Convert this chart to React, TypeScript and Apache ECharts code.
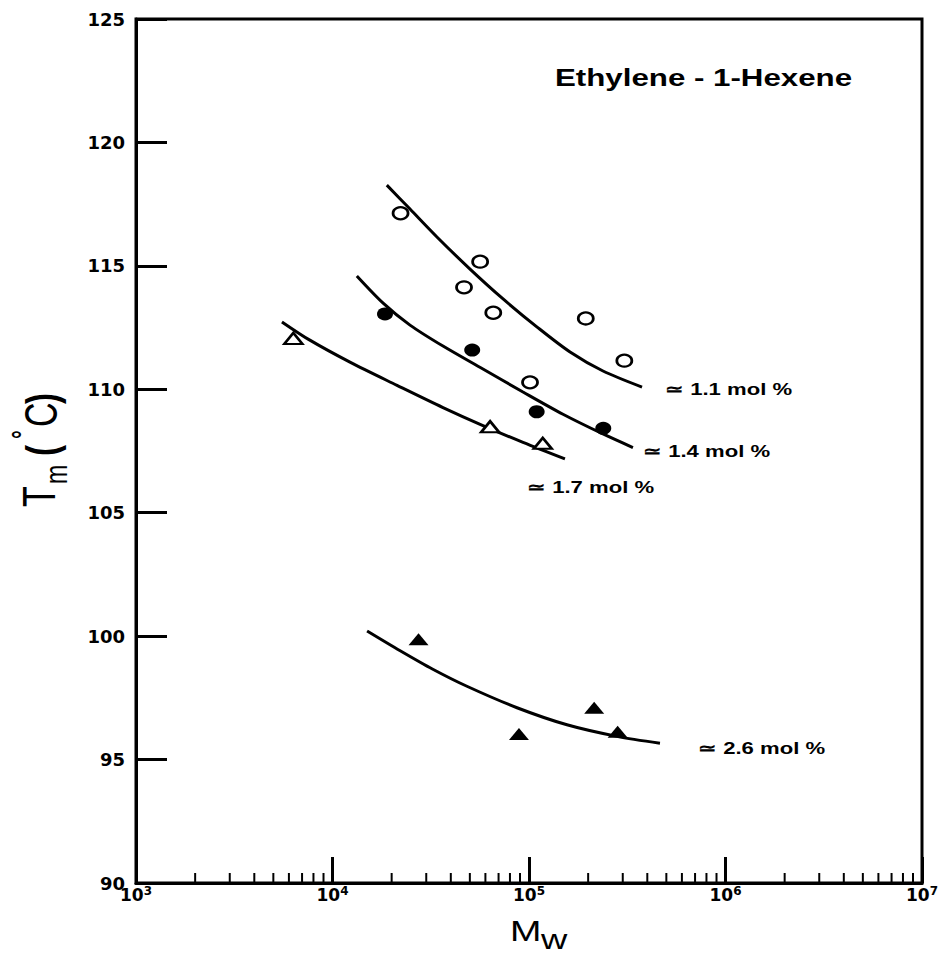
import React, { useEffect, useRef } from "react";
import * as echarts from "echarts";

// Melting temperature vs. weight-average molecular weight, ethylene / 1-hexene copolymers

// Measured points [Mw, Tm (°C)]
const openCircles11: [number, number][] = [
  [22200, 117.13], [56400, 115.17], [46700, 114.13], [65800, 113.1],
  [194500, 112.87], [305600, 111.16], [101200, 110.28],
];
const filledCircles14: [number, number][] = [
  [18500, 113.05], [51400, 111.59], [109400, 109.09], [238800, 108.42],
];
const openTriangles17: [number, number][] = [
  [6320, 112.06], [63400, 108.48], [117500, 107.81],
];
const filledTriangles26: [number, number][] = [
  [27400, 99.87], [88900, 96.04], [214600, 97.1], [282600, 96.13],
];

// Fitted trend curves [Mw, Tm (°C)]
const curve11: [number, number][] = [
  [18900, 118.27], [24800, 117.3], [34000, 116.17], [50100, 114.87], [73800, 113.66],
  [110000, 112.52], [161800, 111.51], [238000, 110.74], [376000, 110.09],
];
const curve14: [number, number][] = [
  [13300, 114.59], [18100, 113.49], [24800, 112.6], [36500, 111.75], [58300, 110.82],
  [93200, 109.89], [148900, 108.99], [238000, 108.19], [338000, 107.64],
];
const curve17: [number, number][] = [
  [5530, 112.73], [7670, 111.99], [12270, 111.1], [21300, 110.16], [36500, 109.26],
  [58300, 108.53], [93200, 107.85], [152400, 107.18],
];
const curve26: [number, number][] = [
  [15000, 100.21], [22100, 99.41], [32400, 98.66], [48300, 97.97], [86900, 97.1],
  [156000, 96.41], [280400, 95.94], [464000, 95.66],
];

// Axis ranges and tick values
const xMin = 1e3;
const xMax = 1e7;
const yMin = 90;
const yMax = 125;
const yStep = 5;
const decades = [1e3, 1e4, 1e5, 1e6];
const minorMantissas = [2, 3, 4, 5, 6, 7, 8, 9];

// Curve labels
const curveLabels = ["\u2243 1.1 mol %", "\u2243 1.4 mol %", "\u2243 1.7 mol %", "\u2243 2.6 mol %"];
const titleText = "Ethylene - 1-Hexene";

const SANS = '"Liberation Sans", Arial, sans-serif';
const WIDE = '"DejaVu Sans", sans-serif';

export default function App() {
  const ref = useRef<HTMLDivElement>(null);

  useEffect(() => {
    document.body.style.margin = "0";
    if (!ref.current) return;
    const chart = echarts.init(ref.current, undefined, { renderer: "svg" });

    const minorTicks: [number, number][] = [];
    decades.forEach((d) => minorMantissas.forEach((m) => minorTicks.push([d * m, yMin])));

    const lineSeries = (data: [number, number][]) => ({
      type: "line",
      data,
      smooth: 0.3,
      showSymbol: false,
      symbol: "none",
      lineStyle: { color: "#000", width: 3 },
      z: 2,
    });

    const labelStyle = (text: string) => ({
      text,
      font: `bold 17px ${SANS}`,
      fill: "#000",
      align: "left",
      verticalAlign: "middle",
    });

    const option: any = {
      animation: false,
      backgroundColor: "#fff",
      grid: {
        left: 136,
        right: 26,
        top: 19,
        bottom: 73,
        show: true,
        borderColor: "#000",
        borderWidth: 3,
        backgroundColor: "transparent",
      },
      xAxis: {
        type: "log",
        logBase: 10,
        min: xMin,
        max: xMax,
        splitNumber: 4,
        axisLine: { show: true, lineStyle: { color: "#000", width: 3 } },
        axisTick: { show: true, inside: true, length: 26, lineStyle: { color: "#000", width: 3 } },
        splitLine: { show: false },
        axisLabel: {
          margin: 2,
          formatter: (v: number) => `{b|10}{s|${Math.round(Math.log10(v))}}`,
          rich: {
            b: { fontFamily: WIDE, fontWeight: "bold", fontSize: 17, lineHeight: 20, color: "#000" },
            s: { fontFamily: WIDE, fontWeight: "bold", fontSize: 12, lineHeight: 12, verticalAlign: "top", color: "#000" },
          },
        },
      },
      yAxis: {
        type: "value",
        min: yMin,
        max: yMax,
        interval: yStep,
        axisLine: { show: true, lineStyle: { color: "#000", width: 3 } },
        axisTick: { show: true, inside: true, length: 31, lineStyle: { color: "#000", width: 3 } },
        splitLine: { show: false },
        axisLabel: { color: "#000", fontFamily: WIDE, fontWeight: "bold", fontSize: 18, margin: 11 },
      },
      series: [
        {
          type: "custom",
          data: minorTicks,
          encode: { x: 0, y: 1 },
          clip: false,
          renderItem: (_p: any, api: any) => {
            const p = api.coord([api.value(0), api.value(1)]);
            return {
              type: "line",
              shape: { x1: p[0], y1: p[1], x2: p[0], y2: p[1] - 10 },
              style: { stroke: "#000", lineWidth: 2 },
            };
          },
          z: 3,
        },
        lineSeries(curve11),
        lineSeries(curve14),
        lineSeries(curve17),
        lineSeries(curve26),
        {
          type: "scatter",
          data: openCircles11,
          symbol: "circle",
          symbolSize: [15, 12],
          itemStyle: { color: "#fff", borderColor: "#000", borderWidth: 2.5, opacity: 1 },
          z: 4,
        },
        {
          type: "scatter",
          data: filledCircles14,
          symbol: "circle",
          symbolSize: [16, 13],
          itemStyle: { color: "#000", opacity: 1 },
          z: 4,
        },
        {
          type: "scatter",
          data: openTriangles17,
          symbol: "triangle",
          symbolSize: [18, 11],
          itemStyle: { color: "#fff", borderColor: "#000", borderWidth: 2.5, opacity: 1 },
          z: 4,
        },
        {
          type: "scatter",
          data: filledTriangles26,
          symbol: "triangle",
          symbolSize: [20, 12],
          itemStyle: { color: "#000", opacity: 1 },
          z: 4,
        },
      ],
      graphic: [
        {
          type: "text",
          x: 555,
          y: 78.5,
          scaleX: 1.36,
          style: { text: titleText, font: `bold 23px ${SANS}`, fill: "#000", align: "left", verticalAlign: "middle" },
        },
        { type: "text", x: 665, y: 389, scaleX: 1.3, style: labelStyle(curveLabels[0]) },
        { type: "text", x: 643, y: 451, scaleX: 1.3, style: labelStyle(curveLabels[1]) },
        { type: "text", x: 527, y: 487, scaleX: 1.3, style: labelStyle(curveLabels[2]) },
        { type: "text", x: 698, y: 748, scaleX: 1.3, style: labelStyle(curveLabels[3]) },
        // y-axis title: T_m (°C), rotated
        {
          type: "group",
          x: 38,
          y: 507,
          rotation: Math.PI / 2,
          scaleY: 1.35,
          children: [
            { type: "text", x: 0, y: 1, style: { text: "T", font: `34px ${SANS}`, fill: "#000", align: "left", verticalAlign: "middle" } },
            { type: "text", x: 23, y: 13.3, style: { text: "m", font: `23px ${SANS}`, fill: "#000", align: "left", verticalAlign: "middle" } },
            { type: "text", x: 51, y: 3, style: { text: "(", font: `bold 33px ${SANS}`, fill: "#000", align: "left", verticalAlign: "middle" } },
            { type: "text", x: 68, y: -11, style: { text: "\u00b0", font: `bold 22px ${SANS}`, fill: "#000", align: "left", verticalAlign: "middle" } },
            { type: "text", x: 80, y: 2, style: { text: "C", font: `34px ${SANS}`, fill: "#000", align: "left", verticalAlign: "middle" } },
            { type: "text", x: 103, y: 3, style: { text: ")", font: `bold 33px ${SANS}`, fill: "#000", align: "left", verticalAlign: "middle" } },
          ],
        },
        // x-axis title: M_w
        { type: "text", x: 510, y: 931, scaleX: 1.3, style: { text: "M", font: `29px ${SANS}`, fill: "#000", align: "left", verticalAlign: "middle" } },
        { type: "text", x: 541, y: 940, scaleX: 1.3, style: { text: "w", font: `28px ${SANS}`, fill: "#000", align: "left", verticalAlign: "middle" } },
      ],
    };

    chart.setOption(option);
    return () => chart.dispose();
  }, []);

  return <div ref={ref} style={{ width: 948, height: 956 }} />;
}
